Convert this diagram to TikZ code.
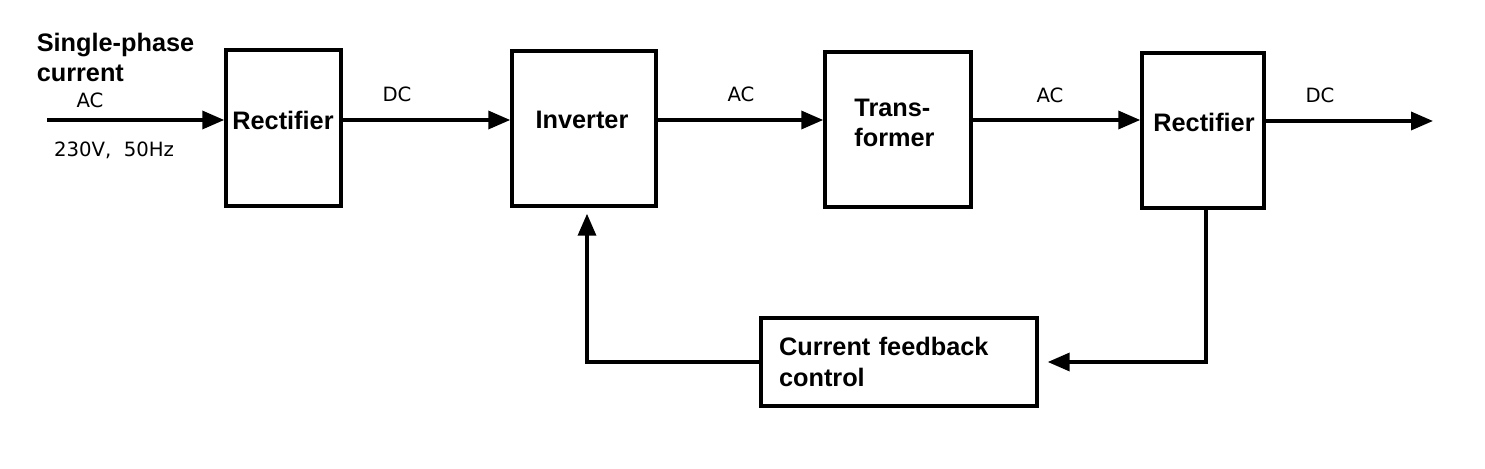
\documentclass[tikz,border=0pt]{standalone}
\usepackage{fontspec}
\setmainfont{Liberation Sans}
\newfontfamily\lblfont{DejaVu Sans}
\usetikzlibrary{arrows.meta,positioning}

\begin{document}
\begin{tikzpicture}[x=0.02cm, y=-0.02cm, line width=2pt,
  block/.style={draw, inner sep=0pt},
  btext/.style={font=\fontsize{14.4}{17.5}\selectfont\bfseries, inner sep=0pt},
  lbl/.style={font=\lblfont\fontsize{11.2}{13}\selectfont, inner sep=0pt},
  arr/.style={-{Triangle[length=0.44cm, width=0.36cm]}}]
	\useasboundingbox (0,0) rectangle (1485,469);
	% blocks
	\node[block, minimum width=2.30cm, minimum height=3.12cm] (rect1) at (283.5,128) {};
	\node[block, minimum width=2.88cm, minimum height=3.10cm] (inv) at (584,128.5) {};
	\node[block, minimum width=2.92cm, minimum height=3.10cm] (trans) at (898,129.5) {};
	\node[block, minimum width=2.44cm, minimum height=3.10cm] (rect2) at (1203,130.5) {};
	\node[block, btext, align=left, text width=4.8cm, inner xsep=0.36cm,
	  minimum height=1.76cm] (ctrl) at (899,362) {Current feedback\\control};
	\node[btext] (rect1t) at (283,120) {Rectifier};
	\node[btext] (invt) at (582,120) {Inverter};
	\node[btext, align=left] (transt) at (894.5,123) {Trans-\\former};
	\node[btext] (rect2t) at (1204,122) {Rectifier};
	% signals
	\coordinate (src) at (47,120);
	\coordinate (sink) at (1433,121);
	\draw[arr] (src) -- (src -| rect1.west);
	\draw[arr] (rect1.east |- src) -- (inv.west |- src);
	\draw[arr] (inv.east |- src) -- (trans.west |- src);
	\draw[arr] (trans.east |- src) -- (rect2.west |- src);
	\draw[arr] (rect2.east |- sink) -- (sink);
	\draw[arr] ([xshift=0.06cm]rect2.south) |- ([xshift=0.18cm]ctrl.east);
	\draw[arr] (ctrl.west) -| ([xshift=0.06cm, yshift=-0.12cm]inv.south);
	% labels
	\node[btext, align=left, anchor=north west] (phase) at (35,31) {Single-phase\\current};
	\node[lbl] (acin) at (90,100) {AC};
	\node[lbl] (volt) at (114,150.5) {230V,\ \ 50Hz};
	\node[lbl] (dc1) at (397,94) {DC};
	\node[lbl] (ac1) at (741,94.5) {AC};
	\node[lbl] (ac2) at (1050,95) {AC};
	\node[lbl] (dc2) at (1320,95.5) {DC};
\end{tikzpicture}
\end{document}
